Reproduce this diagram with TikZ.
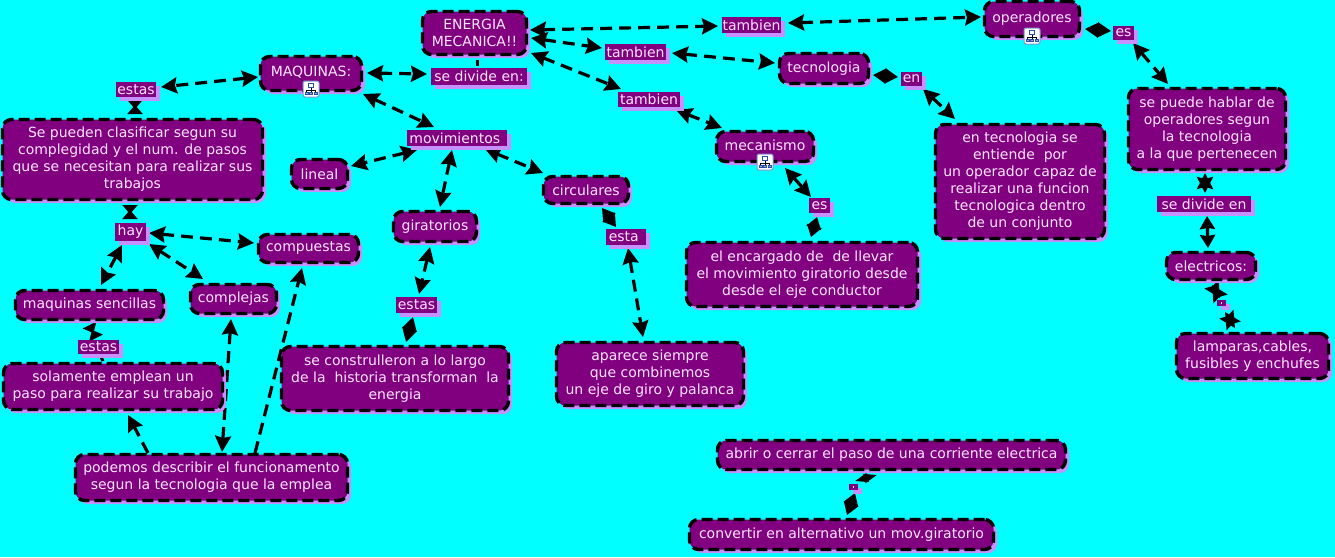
\documentclass[tikz,border=0pt]{standalone}
\usepackage{fontspec}
\setmainfont{DejaVu Sans}
\usetikzlibrary{arrows.meta,shadows,calc}
\definecolor{bgcy}{HTML}{00FFFF}
\definecolor{plum}{HTML}{800080}
\definecolor{lilac}{HTML}{C690FF}
\definecolor{txt}{HTML}{FFE6FF}
\definecolor{icoblue}{HTML}{2A4FA8}
\pgfdeclarelayer{bglayer}
\pgfdeclarelayer{connlayer}
\pgfsetlayers{bglayer,connlayer,main}
\tikzset{
  base/.style={fill=plum,text=txt,align=center,inner sep=0pt,
    font=\fontsize{14}{17}\selectfont,
    drop shadow={shadow xshift=3.5pt,shadow yshift=-3.5pt,fill=lilac,opacity=1}},
  boxnode/.style={base,draw=black,line width=3.4pt,dash pattern=on 11pt off 5pt,rounded corners=9pt},
  labelnode/.style={base,draw=none},
  link/.style={line width=3.2pt,dash pattern=on 12pt off 7pt},
  both/.style={link,{Stealth[length=16pt,width=16pt,inset=2pt]}-{Stealth[length=16pt,width=16pt,inset=2pt]}},
  shortboth/.style={line width=3.2pt,{Stealth[length=13pt,width=15pt,inset=1pt]}-{Stealth[length=13pt,width=15pt,inset=1pt]}},
  toend/.style={link,-{Stealth[length=16pt,width=16pt,inset=2pt]}},
  thin both/.style={link,{Stealth[length=13pt,width=9pt,inset=1pt]}-{Stealth[length=13pt,width=9pt,inset=1pt]}},
  dia/.style={line width=2pt,{Stealth[length=#1pt,width=15pt,inset=0pt]}-{Stealth[length=#1pt,width=15pt,inset=0pt]}},
  bow/.style={line width=2pt,{Stealth[length=#1pt,width=15pt,inset=0pt,reversed]}-{Stealth[length=#1pt,width=15pt,inset=0pt,reversed]}},
  stub/.style={line width=3pt}
}
\newcommand\bx[5]{\node[boxnode,minimum width=#3pt-3pt,minimum height=#4pt-3pt] (#1) at (#2) {#5};}
\newcommand\lb[5]{\node[labelnode,minimum width=#3pt,minimum height=#4pt] (#1) at (#2) {#5};}
\newcommand\conn[5][both]{\draw[#1] ([shift={(#3)}]#2.center) -- ([shift={(#5)}]#4.center);}
\newcommand\cmicon[1]{%
  \begin{scope}[shift={(#1)}]
    \filldraw[draw=icoblue!60,fill=white,line width=1pt,rounded corners=2pt] (-8,-8) rectangle (8,8);
    \draw[black,line width=.8pt] (0,-2) -- (0,1) (-4.5,1) -- (4.5,1) (-4.5,1) -- (-4.5,3) (4.5,1) -- (4.5,3) (0,1) -- (0,3);
    \filldraw[draw=icoblue,fill=white,line width=.8pt] (-2.5,-5.5) rectangle (2.5,-2);
    \filldraw[draw=icoblue,fill=icoblue!50,line width=.8pt] (-6,3) rectangle (-3,5.5);
    \filldraw[draw=icoblue,fill=icoblue!50,line width=.8pt] (3,3) rectangle (6,5.5);
    \filldraw[draw=icoblue,fill=icoblue!50,line width=.8pt] (-1.5,3) rectangle (1.5,5.5);
  \end{scope}}
\begin{document}
\begin{tikzpicture}[x=1pt,y=-1pt]
\begin{pgfonlayer}{bglayer}
\fill[bgcy] (0,0) rectangle (1335,557);
\end{pgfonlayer}
\useasboundingbox (0,0) rectangle (1335,557);

\bx{en}{474.5,33}{107}{46}{ENERGIA\\MECANICA!!}
\bx{maq}{311,73.5}{104}{37}{\raisebox{4pt}{MAQUINAS:}}
\lb{sed}{479,76.5}{96}{17}{se divide en:}
\lb{est1}{136,89.5}{40}{15}{estas}
\bx{sep}{132.5,159.5}{263}{83}{Se pueden clasificar segun su\\complegidad y el num. de pasos\\que se necesitan para realizar sus\\trabajos}
\lb{mov}{457,138}{100}{16}{movimientos\ }
\bx{lin}{319.5,174}{59}{32}{lineal}
\bx{gir}{435,226.5}{86}{33}{giratorios}
\bx{cir}{586,190}{88}{30}{circulares}
\lb{t1}{751.5,25}{59}{16}{tambien}
\lb{t2}{635.5,52}{61}{16}{tambien}
\lb{t3}{649,99.5}{62}{15}{tambien}
\bx{op}{1032,19}{98}{38}{\raisebox{4pt}{operadores}}
\bx{tec}{824,68.5}{92}{33}{tecnologia}
\bx{mec}{765,146.5}{100}{33}{\raisebox{2pt}{mecanismo}}
\lb{es1}{1123.5,33}{21}{14}{es}
\lb{en1}{911.5,79}{21}{14}{en}
\lb{es2}{819.5,205.5}{21}{15}{es}
\bx{sph}{1207,129}{160}{84}{se puede hablar de\\operadores segun\\la tecnologia\\a la que pertenecen}
\lb{sd2}{1204,204}{94}{16}{se divide en}
\bx{ele}{1211,266}{92}{30}{electricos:}
\lb{dot}{1221.5,303}{9}{6}{}
\bx{lam}{1252.5,356}{155}{48}{lamparas,cables,\\fusibles y enchufes}
\bx{ent}{1020,181.5}{172}{117}{en tecnologia se\\entiende\ \ por\\un operador capaz de\\realizar una funcion\\tecnologica dentro\\de un conjunto}
\bx{enc}{802,274.5}{234}{67}{el encargado de\ \ de llevar\\el movimiento giratorio desde\\desde el eje conductor}
\lb{esta}{626,237}{40}{16}{esta\ }
\bx{apa}{650,374}{190}{66}{aparece siempre\\que combinemos\\un eje de giro y palanca}
\lb{est3}{416.5,305}{41}{16}{estas}
\bx{sec}{395,378.5}{230}{67}{se construlleron a lo largo\\de la\ \ historia transforman\ \ la\\energia}
\lb{hay}{130.5,232}{31}{18}{hay}
\bx{com}{308.5,248.5}{103}{31}{compuestas}
\bx{cpl}{233.5,299}{89}{32}{complejas}
\bx{mse}{89.5,305}{151}{32}{maquinas sencillas}
\lb{est2}{98.5,347}{41}{14}{estas}
\bx{sol}{113,386.5}{222}{49}{solamente emplean un\\paso para realizar su trabajo}
\bx{pod}{211.5,477.5}{275}{49}{podemos describir el funcionamento\\segun la tecnologia que la emplea}
\bx{abr}{891.5,455}{351}{32}{abrir o cerrar el paso de una corriente electrica}
\lb{dsh}{853.5,487}{9}{6}{}
\bx{cnv}{841.5,534.5}{307}{33}{convertir en alternativo un mov.giratorio}
\fill[txt] (1220.7,302.2) rectangle (1222.3,303.8);
\fill[txt] (852.7,486.2) rectangle (854.3,487.8);

\begin{pgfonlayer}{connlayer}
\conn{en}{55.5,-3}{t1}{-33.5,1}
\conn{en}{56.5,5}{t2}{-33.5,-4}
\conn{en}{56.5,20}{t3}{-28,-10.5}
\conn{t2}{36.5,1}{tec}{-49,-5.5}
\conn{t3}{27,10.5}{mec}{-43,-18.5}
\conn{t1}{36.5,-2}{op}{-51,-2}
\conn[dia=13]{tec}{49,6.5}{en1}{-13.5,-2}
\conn{en1}{11.5,10}{ent}{-65,-62.5}
\conn[dia=13.5]{op}{53,10}{es1}{-12.5,-2}
\conn{es1}{9.5,10}{sph}{-39,-45}
\conn{sph}{-2,44}{sd2}{1,-11}
\conn[shortboth]{sd2}{3,12}{ele}{-3,-18}
\conn{ele}{1,19}{dot}{-1.5,-5}
\conn{dot}{3.5,9}{lam}{-17.5,-28}
\conn{mec}{20,21.5}{es2}{-8.5,-8.5}
\conn[dia=11.5]{es2}{-2.5,11.5}{enc}{9,-37.5}
\conn{maq}{56,-.5}{sed}{-52,-2.5}
\conn[stub]{en}{2.5,27}{sed}{-2,-10.5}
\conn{maq}{52,20.5}{mov}{-23,-11}
\conn{mov}{-40,12}{lin}{31.5,-8}
\conn{mov}{-5,12}{gir}{5,-19.5}
\conn{mov}{28,11}{cir}{-43,-17}
\conn[dia=12.5]{cir}{16,18}{esta}{-10,-10}
\conn{esta}{2,11}{apa}{-7,-37}
\conn{gir}{-5,20.5}{est3}{2.5,-11}
\conn[dia=13.5]{est3}{-3.5,12}{sec}{11,-36.5}
\conn{maq}{-53,3.5}{est1}{25,-2.5}
\conn[bow=9]{est1}{-1,10.5}{sep}{2.5,-45.5}
\conn[bow=9]{sep}{-2.5,45.5}{hay}{-.5,-13}
\conn{hay}{18.5,1}{com}{-54.5,-5.5}
\conn{hay}{-8.5,13}{mse}{11.5,-20}
\conn{hay}{18.5,12}{cpl}{-30.5,-20}
\conn[bow=9]{mse}{0,20}{est2}{-2.5,-9}
\conn[stub]{est2}{2.5,10}{sol}{-10,-25.5}
\conn[toend]{pod}{-63.5,-24.5}{sol}{15,28.5}
\conn{pod}{10.5,-25.5}{cpl}{-2.5,20}
\conn[toend]{pod}{43.5,-24.5}{com}{-6.5,19.5}
\conn[thin both]{abr}{-14.5,20}{dsh}{1.5,-6}
\conn[dia=12]{dsh}{1.5,6}{cnv}{5.5,-19.5}
\end{pgfonlayer}

\cmicon{311,89}
\cmicon{1032,36}
\cmicon{765,162}
\end{tikzpicture}
\end{document}
